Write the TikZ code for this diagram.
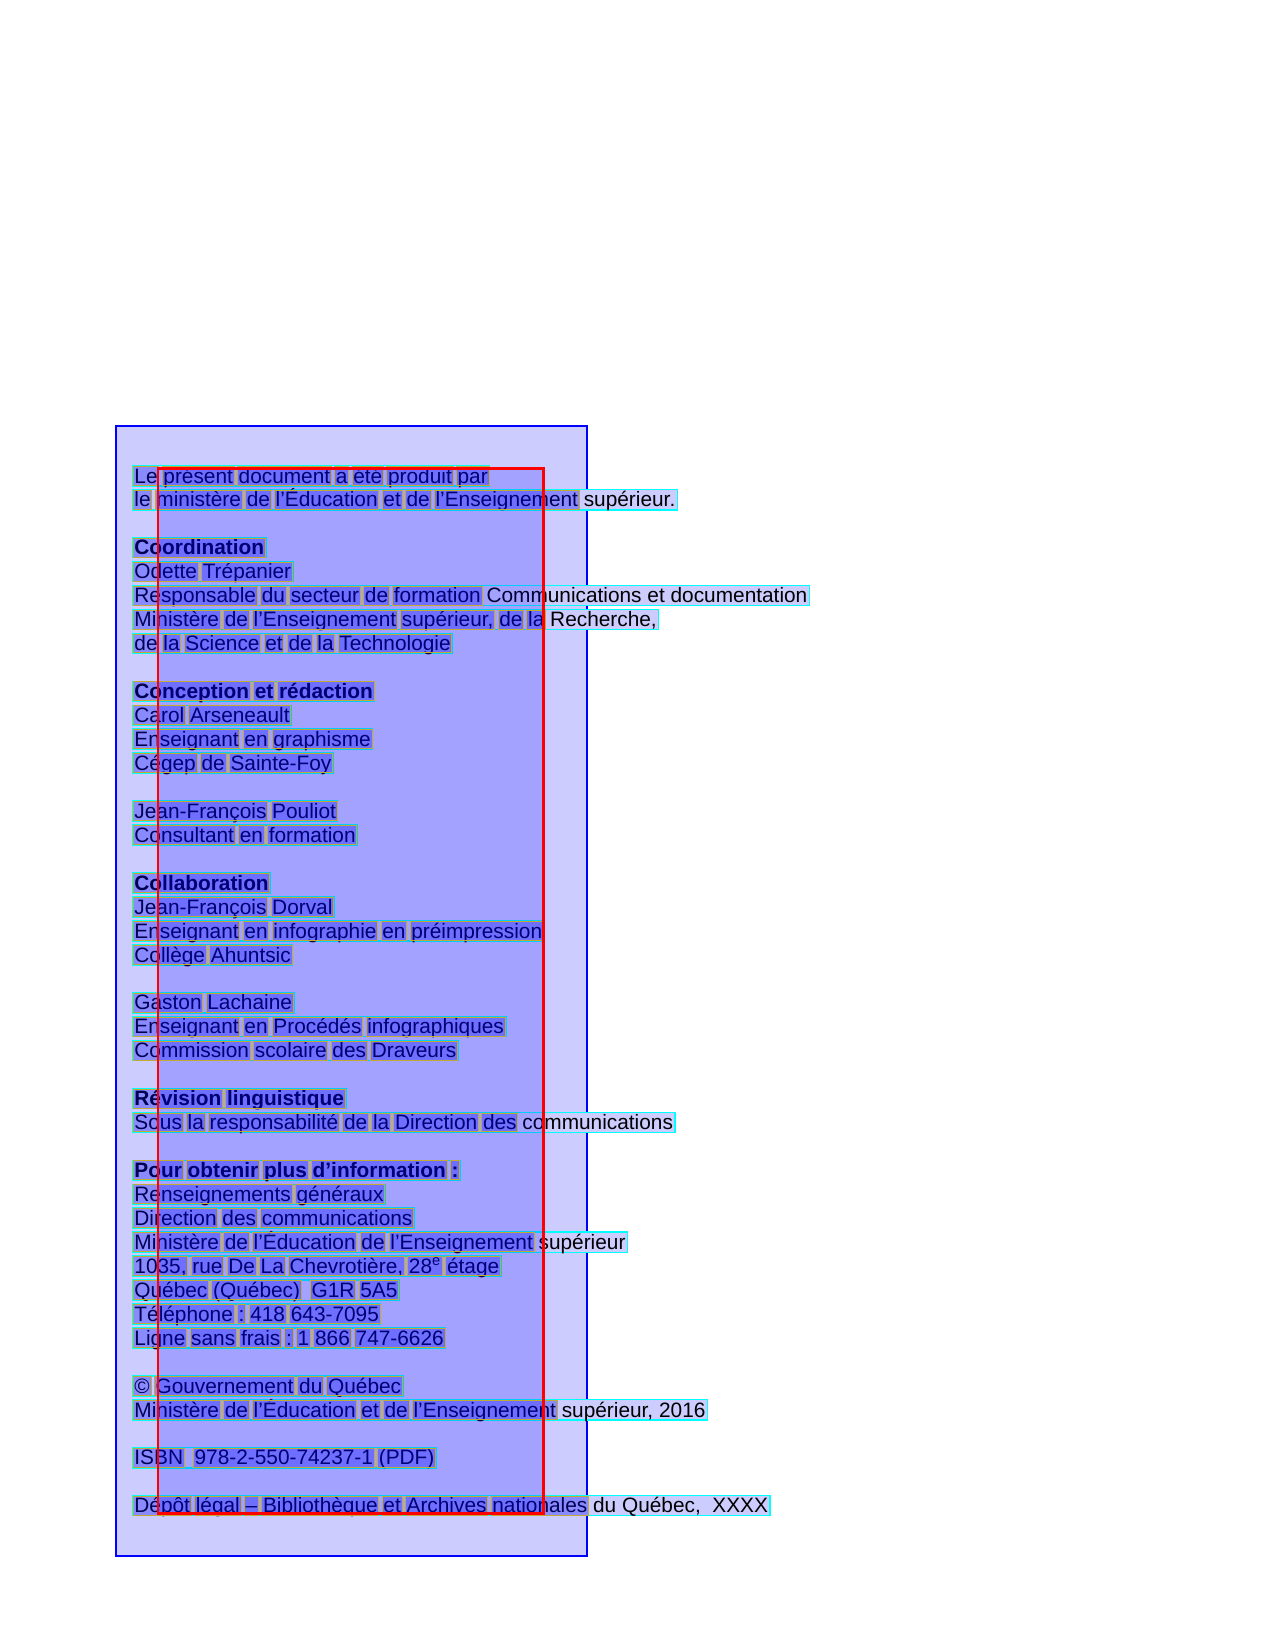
\documentclass[tikz,border=0pt]{standalone}
\usepackage{fontspec}
\setmainfont{Liberation Sans}
\usetikzlibrary{fit}
\pgfdeclarelayer{bgl}\pgfdeclarelayer{linel}\pgfdeclarelayer{redl}\pgfdeclarelayer{wordl}\pgfdeclarelayer{topl}
\pgfsetlayers{bgl,linel,main,redl,wordl,topl}
\definecolor{boxblue}{RGB}{0,0,255}
\definecolor{lav}{RGB}{204,204,255}
\definecolor{lncyan}{RGB}{0,255,255}
\definecolor{wdyel}{RGB}{195,170,50}
\tikzset{
  word/.style={inner xsep=0.6pt, inner ysep=0pt, outer sep=0pt, text height=8pt, text depth=1.1pt, anchor=base west, font=\fontsize{10}{12}\selectfont},
  linebox/.style={draw=lncyan, line width=0.65pt, fill=lav, inner sep=0.3pt},
  wordbox/.style={draw=wdyel, line width=0.45pt, fill=boxblue, fill opacity=0.32},
  outerbox/.style={draw=boxblue, line width=1pt, fill=lav},
  redfill/.style={fill=boxblue, fill opacity=0.2},
  redline/.style={draw=red, line width=1.4pt}
}
\newcommand\dblsp{}
\def\dblmark{\dblsp}
\newcommand\tline[4]{%
  \foreach \w [count=\i] in {#4} {%
    \ifnum\i=1
      \node[word] (L#1w\i) at (133.2,{483+23.95*#1}) {#3\w};
    \else
      \pgfmathtruncatemacro\j{\i-1}%
      \node[word] (L#1w\i) at ([xshift=1.58pt]L#1w\j.base east) {#3\w};
    \fi
    \ifx\w\dblmark\else
      \ifnum\i>#2\relax\else
        \begin{pgfonlayer}{wordl}
          \draw[wordbox] (L#1w\i.south west) rectangle (L#1w\i.north east);
        \end{pgfonlayer}
      \fi
    \fi
    \xdef\lastw{\i}%
  }%
  \begin{pgfonlayer}{linel}
    \node[linebox, fit=(L#1w1)(L#1w\lastw)] (L#1box) {};
  \end{pgfonlayer}%
}
\begin{document}
\begin{tikzpicture}[x=0.48pt, y=-0.48pt]
\useasboundingbox (0,0) rectangle (1275,1651);
\begin{pgfonlayer}{bgl}
  \fill[white] (0,0) rectangle (1275,1651);
  \path[outerbox] (115.6,425.7) rectangle (586.6,1556);
\end{pgfonlayer}
\begin{pgfonlayer}{redl}
  \fill[redfill] (158,468.3) rectangle (543.3,1513.3);
\end{pgfonlayer}
\begin{pgfonlayer}{topl}
  \path[redline] (158,468.3) rectangle (543.3,1513.3);
\end{pgfonlayer}
\tline{0}{7}{}{Le,présent,document,a,été,produit,par}
\tline{1}{7}{}{le,ministère,de,l’Éducation,et,de,l’Enseignement,supérieur.}
\tline{3}{1}{\bfseries}{Coordination}
\tline{4}{2}{}{Odette,Trépanier}
\tline{5}{5}{}{Responsable,du,secteur,de,formation,Communications,et,documentation}
\tline{6}{6}{}{Ministère,de,l’Enseignement,{supérieur,},de,la,{Recherche,}}
\tline{7}{7}{}{de,la,Science,et,de,la,Technologie}
\tline{9}{3}{\bfseries}{Conception,et,rédaction}
\tline{10}{2}{}{Carol,Arseneault}
\tline{11}{3}{}{Enseignant,en,graphisme}
\tline{12}{3}{}{Cégep,de,Sainte-Foy}
\tline{14}{2}{}{Jean-François,Pouliot}
\tline{15}{3}{}{Consultant,en,formation}
\tline{17}{1}{\bfseries}{Collaboration}
\tline{18}{2}{}{Jean-François,Dorval}
\tline{19}{5}{}{Enseignant,en,infographie,en,préimpression}
\tline{20}{2}{}{Collège,Ahuntsic}
\tline{22}{2}{}{Gaston,Lachaine}
\tline{23}{4}{}{Enseignant,en,Procédés,infographiques}
\tline{24}{4}{}{Commission,scolaire,des,Draveurs}
\tline{26}{2}{\bfseries}{Révision,linguistique}
\tline{27}{7}{}{Sous,la,responsabilité,de,la,Direction,des,communications}
\tline{29}{5}{\bfseries}{Pour,obtenir,plus,d’information,:}
\tline{30}{2}{}{Renseignements,généraux}
\tline{31}{3}{}{Direction,des,communications}
\tline{32}{5}{}{Ministère,de,l’Éducation,de,l’Enseignement,supérieur}
\tline{33}{7}{}{{1035,},rue,De,La,{Chevrotière,},28\textsuperscript{e},étage}
\tline{34}{5}{}{Québec,(Québec),\dblsp,G1R,5A5}
\tline{35}{4}{}{Téléphone,:,418,643-7095}
\tline{36}{7}{}{Ligne,sans,frais,:,1,866,747-6626}
\tline{38}{4}{}{©,Gouvernement,du,Québec}
\tline{39}{6}{}{Ministère,de,l’Éducation,et,de,l’Enseignement,{supérieur,},2016}
\tline{41}{4}{}{ISBN,\dblsp,978-2-550-74237-1,(PDF)}
\tline{43}{7}{}{Dépôt,légal,–,Bibliothèque,et,Archives,nationales,du,{Québec,},\dblsp,XXXX}
\end{tikzpicture}
\end{document}
